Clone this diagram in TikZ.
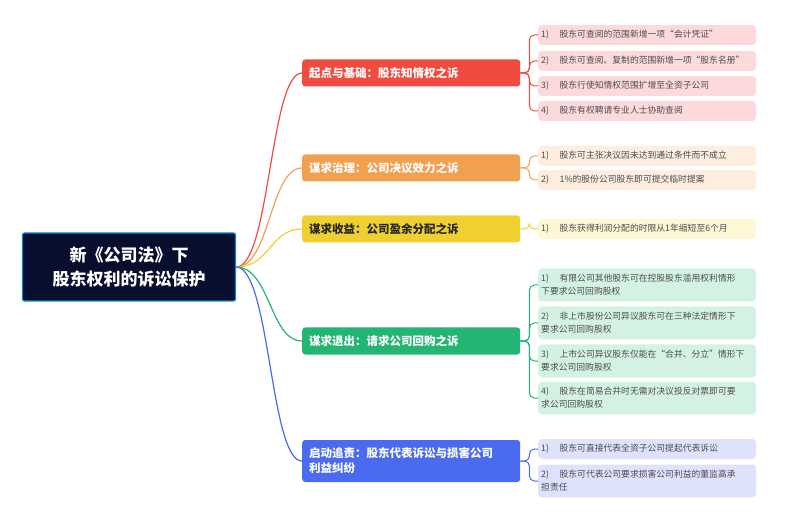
\documentclass[tikz,border=0pt]{standalone}
\usepackage{fontspec}
\setmainfont{Noto Sans CJK SC}
\begin{document}
\begin{tikzpicture}[x=1pt,y=-1pt,
 br/.style={draw=none,fill=#1,rounded corners=3pt,minimum width=218pt,minimum height=27pt,anchor=west,text=white,font=\fontsize{11.5}{15}\selectfont\bfseries,align=left,text width=204pt,inner xsep=7pt},
 lf/.style={fill=#1,rounded corners=4pt,minimum width=218pt,minimum height=20pt,anchor=west,text=black!70,font=\fontsize{8.8}{13}\selectfont,align=left,text width=212pt,inner xsep=3pt},
 e/.style={line width=1.2pt,draw=#1},
 le/.style={line width=1pt,draw=#1,rounded corners=5pt}]
\useasboundingbox (0,0) rectangle (800,518);
\definecolor{cR}{HTML}{EF4B3F}\definecolor{cO}{HTML}{F0A04E}\definecolor{cY}{HTML}{F0D030}
\definecolor{cG}{HTML}{22B573}\definecolor{cB}{HTML}{4A6AF0}
\definecolor{lR}{HTML}{FCDADC}\definecolor{lO}{HTML}{FDEEE0}\definecolor{lY}{HTML}{FDF7D6}
\definecolor{lG}{HTML}{D4F2E4}\definecolor{lB}{HTML}{DFE2FB}
\definecolor{nv}{HTML}{080F2E}
\node[draw=cyan!70!blue,line width=1.2pt,fill=nv,rounded corners=2pt,minimum width=213pt,minimum height=68pt,text=white,font=\fontsize{17}{24}\selectfont\bfseries,align=center] (root) at (129,267) {新《公司法》下\\股东权利的诉讼保护};
\node[br=cR] (b1) at (302,73) {起点与基础：股东知情权之诉};
\node[br=cO] (b2) at (302,168) {谋求治理：公司决议效力之诉};
\node[br=cY,text=black!85] (b3) at (302,229) {谋求收益：公司盈余分配之诉};
\node[br=cG] (b4) at (302,341) {谋求退出：请求公司回购之诉};
\node[br=cB,minimum height=42pt] (b5) at (302,461) {启动追责：股东代表诉讼与损害公司\\利益纠纷};
\foreach \b/\c/\y in {b1/cR/73,b2/cO/168,b3/cY/229,b4/cG/341,b5/cB/461}
 \draw[e=\c] (root.east) .. controls (270,267) and (270,\y) .. (\b.west);
\newcommand\gap{\hspace{1.2em}}
\node[lf=lR] (r1) at (538,35) {1)\gap 股东可查阅的范围新增一项“会计凭证”};
\node[lf=lR] (r2) at (538,61) {2)\gap 股东可查阅、复制的范围新增一项“股东名册”};
\node[lf=lR] (r3) at (538,86) {3)\gap 股东行使知情权范围扩增至全资子公司};
\node[lf=lR] (r4) at (538,111) {4)\gap 股东有权聘请专业人士协助查阅};
\node[lf=lO] (o1) at (538,156) {1)\gap 股东可主张决议因未达到通过条件而不成立};
\node[lf=lO] (o2) at (538,180) {2)\gap 1\%的股份公司股东即可提交临时提案};
\node[lf=lY] (y1) at (538,229) {1)\gap 股东获得利润分配的时限从1年缩短至6个月};
\node[lf=lG,minimum height=33pt] (g1) at (538,285) {1)\gap 有限公司其他股东可在控股股东滥用权利情形\\下要求公司回购股权};
\node[lf=lG,minimum height=33pt] (g2) at (538,323) {2)\gap 非上市股份公司异议股东可在三种法定情形下\\要求公司回购股权};
\node[lf=lG,minimum height=33pt] (g3) at (538,361) {3)\gap 上市公司异议股东仅能在“合并、分立”情形下\\要求公司回购股权};
\node[lf=lG,minimum height=33pt] (g4) at (538,398) {4)\gap 股东在简易合并时无需对决议投反对票即可要\\求公司回购股权};
\node[lf=lB] (u1) at (538,449) {1)\gap 股东可直接代表全资子公司提起代表诉讼};
\node[lf=lB,minimum height=33pt] (u2) at (538,481) {2)\gap 股东可代表公司要求损害公司利益的董监高承\\担责任};
\foreach \b/\c/\l in {b1/cR/r1,b1/cR/r2,b1/cR/r3,b1/cR/r4,b2/cO/o1,b2/cO/o2,b3/cY/y1,b4/cG/g1,b4/cG/g2,b4/cG/g3,b4/cG/g4,b5/cB/u1,b5/cB/u2}
 \draw[le=\c] (\b.east) -- ++(9,0) |- (\l.west);
\end{tikzpicture}
\end{document}
